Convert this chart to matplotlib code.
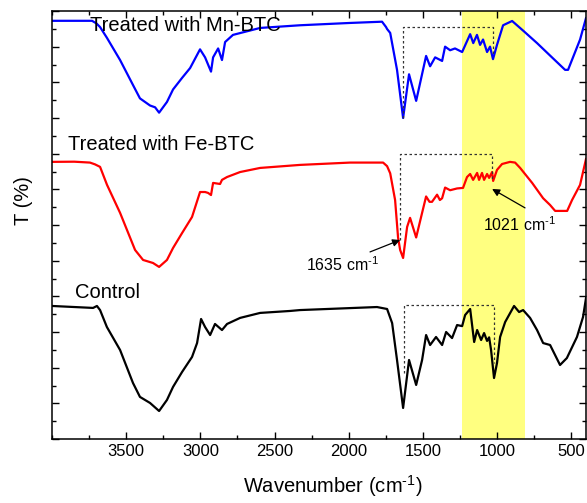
import matplotlib
matplotlib.use('Agg')
import matplotlib.pyplot as plt
from matplotlib.ticker import MultipleLocator

plt.rcParams['font.family'] = ['Liberation Sans', 'DejaVu Sans']
plt.rcParams['mathtext.fontset'] = 'custom'
plt.rcParams['mathtext.rm'] = 'Liberation Sans'
plt.rcParams['mathtext.it'] = 'Liberation Sans'
plt.rcParams['mathtext.default'] = 'regular'

# FTIR spectra (offset vertically), wavenumber in cm-1
wn_mn = [4000, 3730, 3700, 3676, 3630, 3541, 3454, 3407, 3339, 3305, 3278, 3225, 3184, 3123,
         3069, 3002, 2968, 2928, 2914, 2880, 2854, 2833, 2780, 2597, 2328, 1991, 1775, 1748,
         1741, 1720, 1674, 1633, 1593, 1545, 1478, 1451, 1417, 1370, 1350, 1316, 1283, 1235,
         1181, 1160, 1135, 1114, 1094, 1067, 1047, 1027, 1000, 959, 898, 824, 730, 642, 541,
         521, 440, 400]
t_mn = [23.45, 23.45, 23.3, 23.1, 22.5, 21.25, 19.85, 19.1, 18.7, 18.6, 18.3, 18.9, 19.6, 20.25,
        20.8, 21.85, 21.4, 20.6, 21.4, 21.9, 21.25, 22.26, 22.66, 23.05, 23.2, 23.33, 23.4, 23.1,
        22.99, 22.77, 20.7, 18.0, 20.45, 18.96, 21.48, 20.9, 21.4, 21.2, 22.0, 21.8, 21.9, 21.7,
        22.7, 22.2, 22.66, 22.1, 22.4, 21.7, 22.0, 21.3, 22.1, 23.2, 23.44, 22.9, 22.2, 21.5, 20.7,
        20.7, 22.4, 23.6]

wn_fe = [4000, 3850, 3744, 3710, 3676, 3629, 3541, 3440, 3386, 3319, 3278, 3225, 3184, 3123,
         3056, 3002, 2968, 2948, 2928, 2914, 2867, 2854, 2820, 2732, 2597, 2328, 1991, 1768,
         1741, 1720, 1687, 1667, 1653, 1633, 1606, 1586, 1545, 1505, 1478, 1455, 1438, 1404,
         1385, 1370, 1350, 1316, 1269, 1229, 1202, 1181, 1161, 1134, 1121, 1101, 1087, 1067,
         1053, 1033, 1026, 1000, 966, 912, 878, 844, 763, 689, 642, 608, 527, 494, 440, 406, 400]
t_fe = [15.54, 15.55, 15.5, 15.4, 15.26, 14.25, 12.68, 10.6, 10.04, 9.87, 9.65, 10.04, 10.71, 11.55,
        12.45, 13.85, 13.85, 13.8, 13.68, 14.36, 14.3, 14.53, 14.69, 14.97, 15.2, 15.37, 15.5, 15.5,
        15.3, 14.9, 13.4, 11.3, 10.6, 10.15, 11.89, 12.4, 11.3, 12.68, 13.6, 13.3, 13.3, 13.7,
        13.4, 13.5, 14.1, 13.95, 14.05, 14.08, 14.69, 14.86, 14.53, 14.92, 14.53, 14.92, 14.53, 14.86,
        14.64, 14.97, 14.47, 15.09, 15.42, 15.54, 15.5, 15.2, 14.36, 13.5, 13.12, 12.79, 12.79, 13.4,
        14.25, 15.48, 15.7]

wn_ctrl = [4000, 3723, 3697, 3676, 3630, 3541, 3454, 3407, 3339, 3278, 3225, 3184, 3123, 3056,
           3022, 2995, 2968, 2934, 2901, 2854, 2820, 2732, 2597, 2395, 2328, 1809, 1741, 1707,
           1674, 1633, 1593, 1545, 1505, 1478, 1451, 1411, 1370, 1343, 1303, 1269, 1235, 1215,
           1181, 1154, 1134, 1107, 1087, 1067, 1053, 1040, 1020, 1000, 979, 945, 885, 851, 824,
           777, 730, 689, 642, 575, 529, 461, 420, 400]
t_ctrl = [7.46, 7.35, 7.46, 7.23, 6.28, 4.99, 3.14, 2.36, 2.02, 1.57, 2.19, 2.92, 3.76, 4.6,
          5.38, 6.73, 6.28, 5.83, 6.45, 6.11, 6.45, 6.79, 7.07, 7.18, 7.23, 7.4, 7.29, 6.5,
          4.43, 1.74, 4.43, 3.03, 4.43, 5.83, 5.27, 5.72, 5.27, 6.0, 5.66, 6.39, 6.33, 6.95,
          7.29, 5.44, 6.11, 5.55, 5.94, 5.5, 5.7, 4.99, 3.42, 4.26, 5.72, 6.56, 7.46, 7.12, 7.23,
          6.79, 6.11, 5.38, 5.27, 4.15, 4.54, 5.72, 6.84, 7.9]

# dotted brackets: left wn, right wn, top, left bottom, right bottom
bracket_mn = [1633, 1027, 23.1, 18.0, 21.5]
bracket_fe = [1653, 1033, 15.98, 11.16, 14.6]
bracket_ctrl = [1626, 1020, 7.52, 3.7, 4.26]

band = [1235, 811]

fig = plt.figure(figsize=(5.87, 5.03), dpi=100)
ax = fig.add_axes([52 / 587, 64 / 503, 534 / 587, 428 / 503])

ax.axvspan(band[0], band[1], color='#ffff80', zorder=0, lw=0)

ax.plot(wn_mn, t_mn, color='#0000ff', lw=1.6, solid_joinstyle='round')
ax.plot(wn_fe, t_fe, color='#ff0000', lw=1.6, solid_joinstyle='round')
ax.plot(wn_ctrl, t_ctrl, color='black', lw=1.6, solid_joinstyle='round')

for b in [bracket_mn, bracket_fe, bracket_ctrl]:
    ax.plot([b[0], b[0], b[1], b[1]], [b[3], b[2], b[2], b[4]],
            color='#333333', lw=0.9, ls=(0, (2, 2)))

ax.text(3744, 23.2, 'Treated with Mn-BTC', fontsize=14.5, va='center', ha='left')
ax.text(3892, 16.49, 'Treated with Fe-BTC', fontsize=14.5, va='center', ha='left')
ax.text(3845, 8.24, 'Control', fontsize=14.5, va='center', ha='left')

# peak labels with arrows
sup = '$^{\u2010 1}$'
arrow = dict(arrowstyle='-|>', color='black', lw=0.9, shrinkA=0, shrinkB=0, mutation_scale=11)
ax.text(2287, 9.76, '1635 cm' + sup, fontsize=11.5, va='center', ha='left')
ax.annotate('', xy=(1653, 11.16), xytext=(1856, 10.49), arrowprops=arrow)
ax.text(1094, 12.0, '1021 cm' + sup, fontsize=11.5, va='center', ha='left')
ax.annotate('', xy=(1033, 14.02), xytext=(811, 12.96), arrowprops=arrow)

ax.set_xlim(4000, 400)
ax.set_ylim(0, 24)
ax.xaxis.set_major_locator(MultipleLocator(500))
ax.xaxis.set_minor_locator(MultipleLocator(250))
ax.yaxis.set_major_locator(MultipleLocator(2))
ax.yaxis.set_minor_locator(MultipleLocator(1))
ax.set_xticks([3500, 3000, 2500, 2000, 1500, 1000, 500])
ax.tick_params(which='both', direction='in', top=True, right=True, width=1)
ax.tick_params(which='major', length=5, labelsize=12)
ax.tick_params(which='minor', length=3)
ax.set_yticklabels([])
for s in ax.spines.values():
    s.set_linewidth(1.1)

ax.set_xlabel('Wavenumber (cm' + sup + ')', fontsize=14.5)
ax.set_ylabel('T (%)', fontsize=14.5)
ax.xaxis.set_label_coords(0.525, -0.08)
ax.yaxis.set_label_coords(-0.036, 0.556)

fig.savefig('out.png', dpi=100)
